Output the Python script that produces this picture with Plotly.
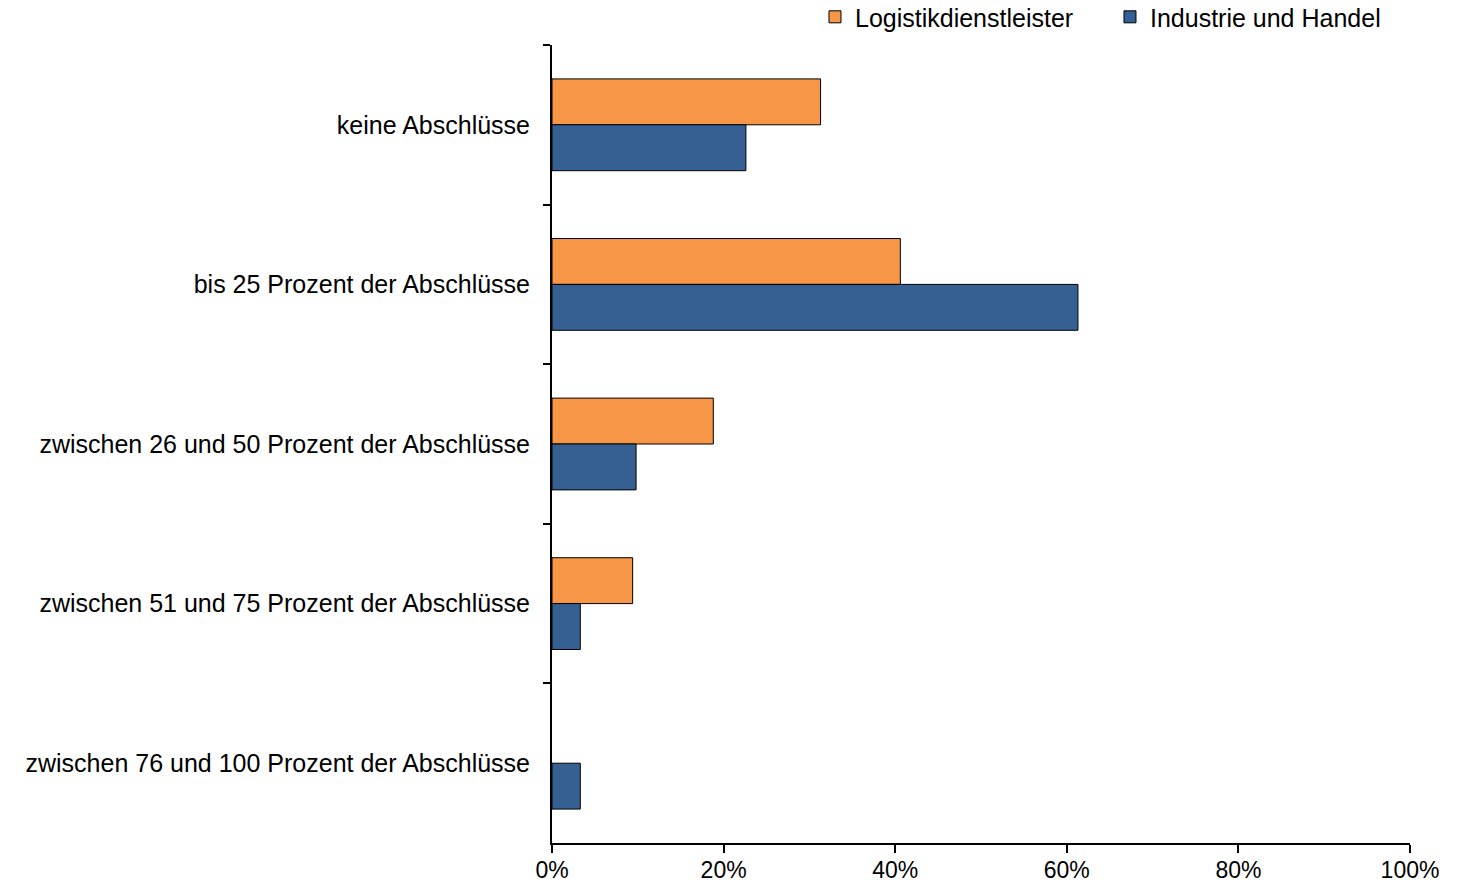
import plotly.graph_objects as go

categories = [
    "keine Abschlüsse",
    "bis 25 Prozent der Abschlüsse",
    "zwischen 26 und 50 Prozent der Abschlüsse",
    "zwischen 51 und 75 Prozent der Abschlüsse",
    "zwischen 76 und 100 Prozent der Abschlüsse",
]
logistik = [0.313, 0.406, 0.188, 0.094, 0.0]
industrie = [0.226, 0.613, 0.098, 0.033, 0.033]
series_names = ["Logistikdienstleister", "Industrie und Handel"]
x_ticks = [0, 0.2, 0.4, 0.6, 0.8, 1.0]

fig = go.Figure()
fig.add_trace(go.Bar(
    y=categories, x=logistik, orientation="h", name=series_names[0],
    marker=dict(color="#F79646",
                line=dict(color="black", width=[1 if v > 0 else 0 for v in logistik])),
))
fig.add_trace(go.Bar(
    y=categories, x=industrie, orientation="h", name=series_names[1],
    marker=dict(color="#376092", line=dict(color="black", width=1)),
))

fig.update_layout(
    width=1457, height=886,
    margin=dict(l=552, r=47, t=45, b=43, autoexpand=False),
    paper_bgcolor="white", plot_bgcolor="white",
    barmode="group", bargap=0.425, bargroupgap=0,
    font=dict(family="Liberation Sans, Arial, sans-serif", size=25, color="black"),
    legend=dict(
        orientation="h", x=0.3065, xanchor="left", y=1.035, yanchor="middle",
        font=dict(size=25), traceorder="normal", itemclick=False,
        entrywidth=250, entrywidthmode="pixels",
        bgcolor="rgba(0,0,0,0)",
    ),
    showlegend=True,
)
fig.update_xaxes(
    range=[0, 1], tickvals=x_ticks, tickformat=".0%",
    tickfont=dict(size=23), ticklabelstandoff=-3,
    showgrid=False, zeroline=False,
    showline=True, linecolor="black", linewidth=2,
    ticks="outside", ticklen=8, tickwidth=2, tickcolor="black",
)
fig.update_yaxes(
    categoryorder="array", categoryarray=categories, autorange="reversed",
    showgrid=False, zeroline=False,
    showline=True, linecolor="black", linewidth=2,
    ticks="outside", ticklen=7, tickwidth=2, tickcolor="black",
    tickson="boundaries", ticklabelstandoff=15,
)

fig.write_html("out.html")
